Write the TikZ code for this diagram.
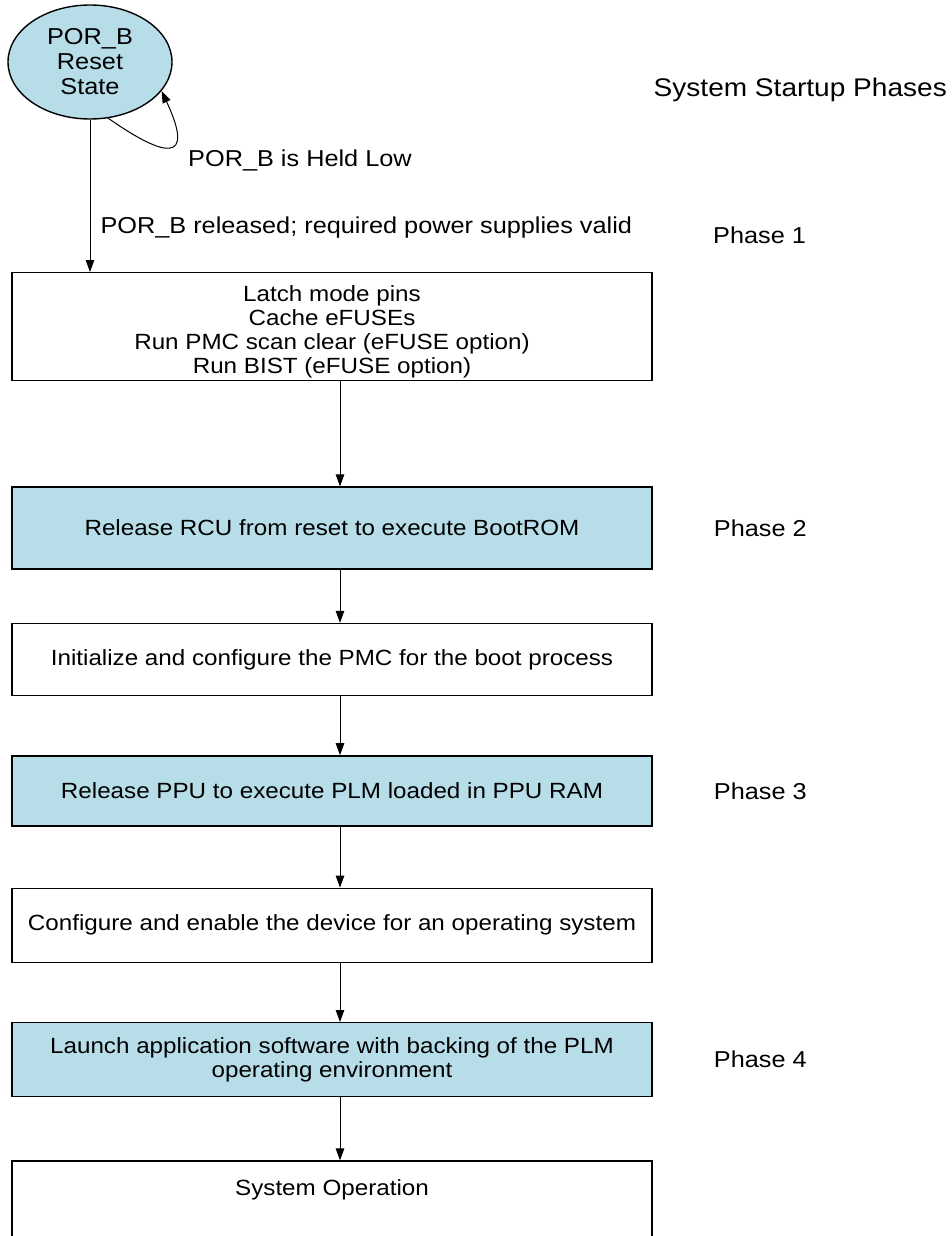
\documentclass[tikz,border=0pt]{standalone}
\usepackage{fontspec}
\setmainfont[FakeStretch=1.1]{Liberation Sans}
\usetikzlibrary{arrows.meta,positioning,shapes.geometric}
\definecolor{bootblue}{HTML}{B7DDE8}
\newcommand{\boxfont}{\fontsize{22}{24}\selectfont}
\newcommand{\lblfont}{\fontsize{23}{27}\selectfont}
\newcommand{\statefont}{\fontsize{23}{25}\selectfont}
\newcommand{\titlefont}{\fontsize{25.5}{30}\selectfont}
\tikzset{
  stage/.style={draw=black,line width=1.4pt,minimum width=640pt,align=center,inner sep=2pt,font=\boxfont},
  stageblue/.style={stage,fill=bootblue},
  state/.style={ellipse,draw=black,line width=1.4pt,fill=bootblue,minimum width=164pt,minimum height=114pt,inner sep=0pt,align=center,font=\statefont},
  ar/.style={-{Triangle[length=12pt,width=8.5pt]},draw=black,line width=1pt},
  lbl/.style={font=\lblfont,inner sep=0pt},
}

\begin{document}
\begin{tikzpicture}[x=1pt,y=1pt]
  \useasboundingbox (0,0) rectangle (951,-1236);
  \node[state] (por) at (90,-62) {POR\_B\\Reset\\State};
  \node[font=\titlefont,anchor=east,inner sep=0pt] (title) at (947,-90) {System Startup Phases};

  \node[stage,minimum height=108pt,anchor=north] (latch) at (332,-272)
    {\rule{0pt}{26pt}Latch mode pins\\Cache eFUSEs\\Run PMC scan clear (eFUSE option)\\Run BIST (eFUSE option)};
  \node[stageblue,below=105pt of latch,minimum height=82pt] (rcu) {Release RCU from reset to execute BootROM};
  \node[stage,below=53pt of rcu,minimum height=72pt] (pmc) {Initialize and configure the PMC for the boot process};
  \node[stageblue,below=59pt of pmc,minimum height=70pt] (ppu) {Release PPU to execute PLM loaded in PPU RAM};
  \node[stage,below=61pt of ppu,minimum height=74pt] (cfg) {Configure and enable the device for an operating system};
  \node[stageblue,below=59pt of cfg,minimum height=74pt] (app)
    {Launch application software with backing of the PLM\\operating environment};
  \node[stage,below=63pt of app,inner ysep=18pt,text depth=70pt] (sysop) {System Operation};

  % phase labels
  \node[lbl,anchor=west] (ph1) at (713,-235) {Phase 1};
  \node[lbl,right=61pt of rcu] (ph2) {Phase 2};
  \node[lbl,right=61pt of ppu] (ph3) {Phase 3};
  \node[lbl,right=61pt of app] (ph4) {Phase 4};

  % reset state
  \draw[ar] (por.-72) .. controls +(-35:70) and +(-65:80) .. (por.-22);
  \node[lbl,anchor=west] (held) at (188,-160) {POR\_B is Held Low};
  \draw[ar] (por.south) -- node[lbl,pos=0.71,right=10pt]{POR\_B released; required power supplies valid} (por.south |- latch.north);

  \foreach \a/\b in {latch/rcu,rcu/pmc,pmc/ppu,ppu/cfg,cfg/app,app/sysop}
    \draw[ar] ([xshift=8pt]\a.south) -- ([xshift=8pt]\b.north);
\end{tikzpicture}
\end{document}
